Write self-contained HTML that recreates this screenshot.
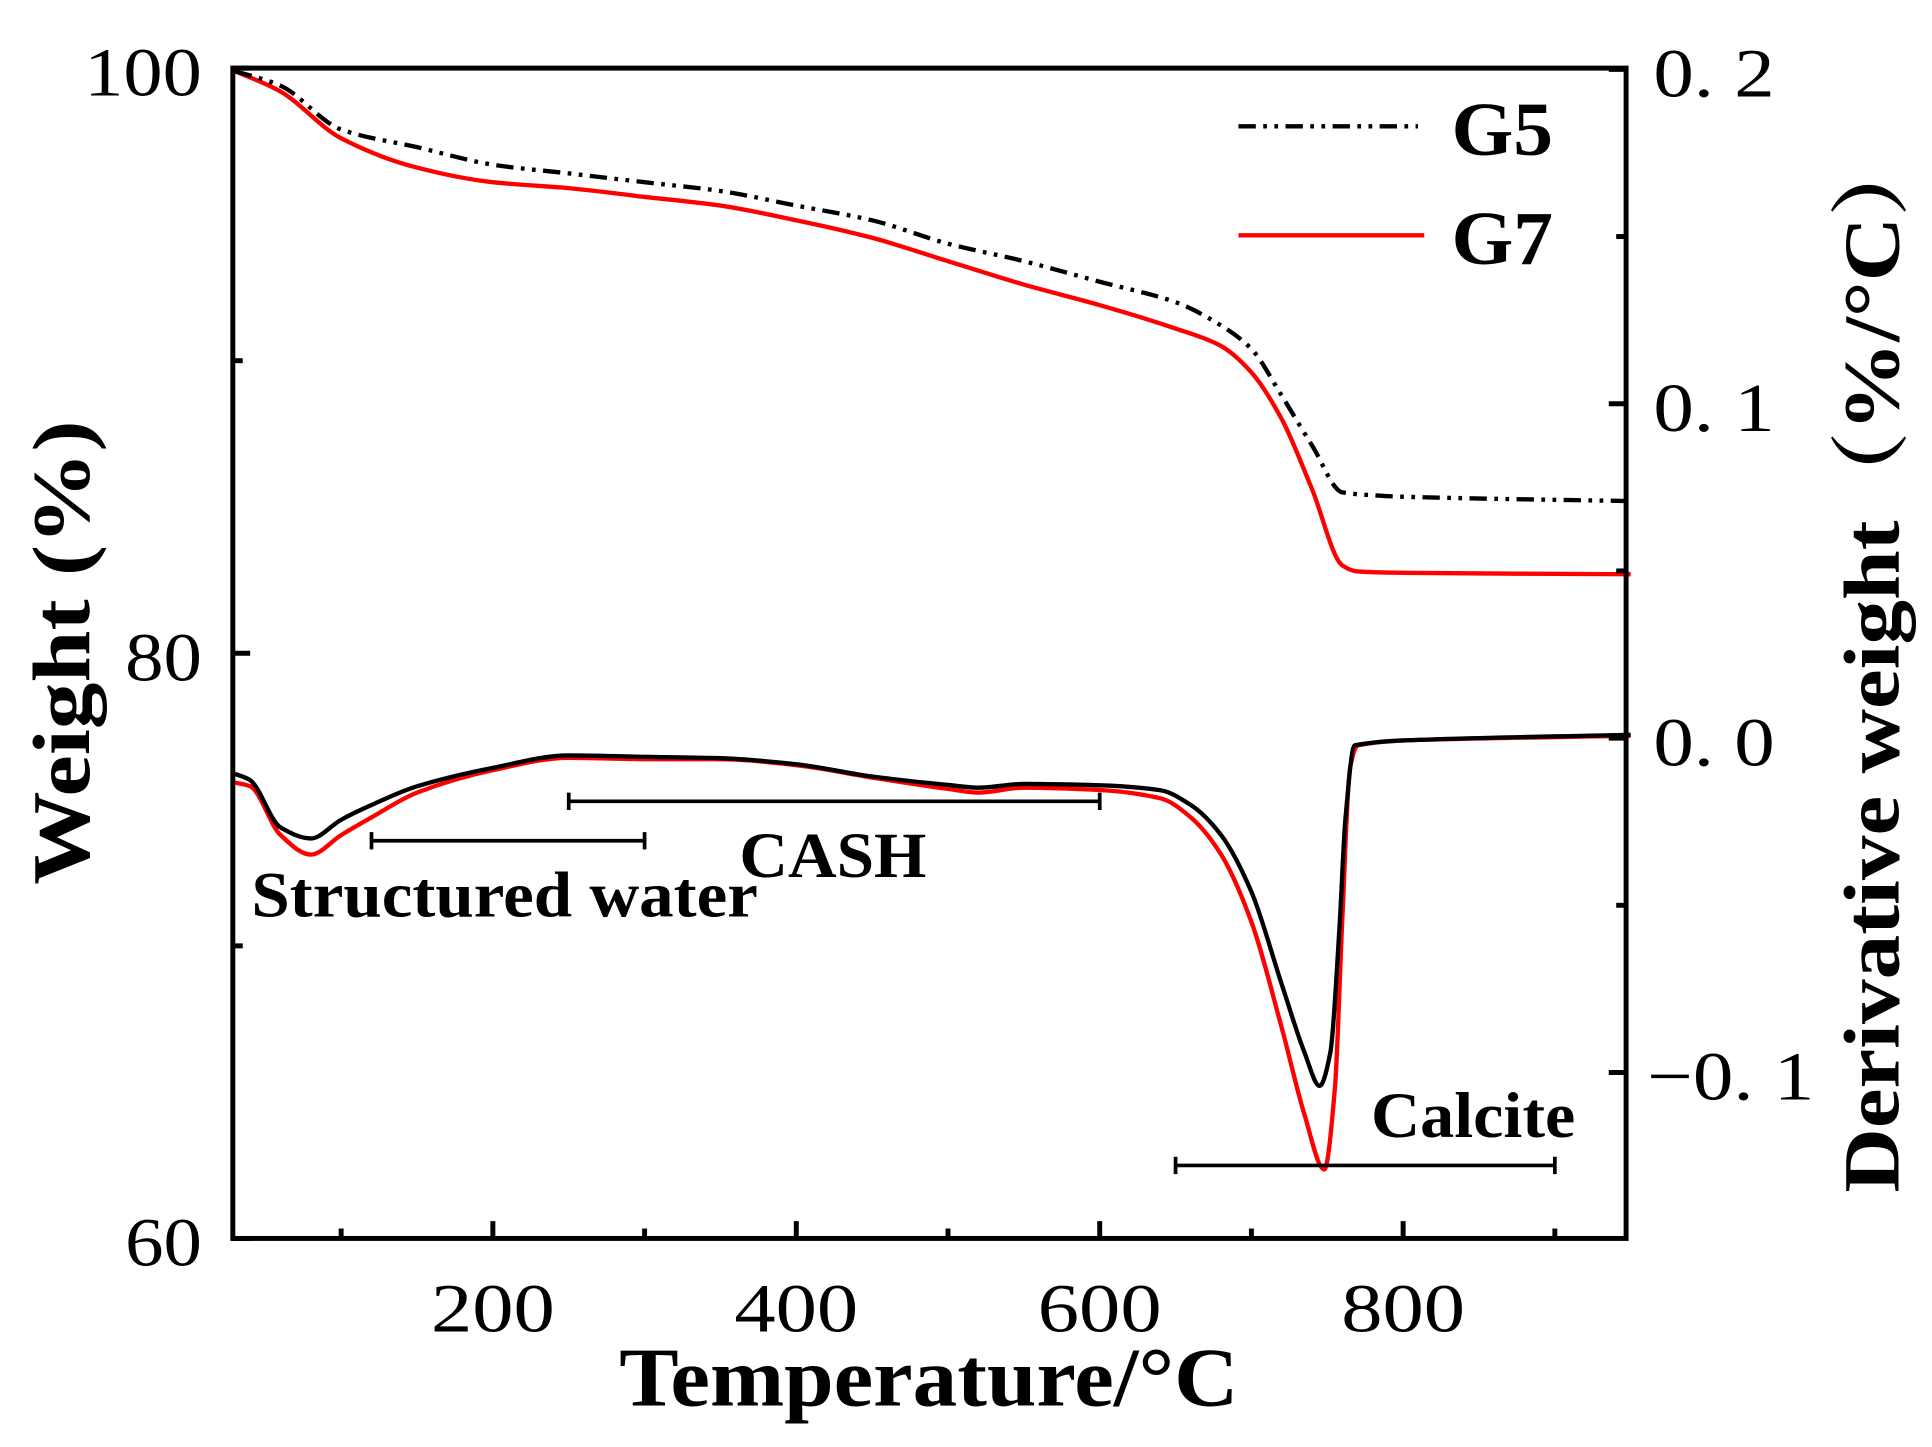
<!DOCTYPE html>
<html><head><meta charset="utf-8"><style>
html,body{margin:0;padding:0;background:#fff;}
svg{display:block;}
text{font-family:"Liberation Serif",serif;}
</style></head><body>
<svg id="chart" width="1932" height="1447" viewBox="0 0 1560 1168.4" preserveAspectRatio="none" xmlns="http://www.w3.org/2000/svg">
<g id="marks"></g>
<g id="frame"></g>
</svg>
<script>
const temps5 = [30,60,100,150,200,250,300,350,400,450,500,550,600,650,680,700,720,740,760,780,800,950];
const tgG5 = [99.9,99.4,97.9,97.3,96.7,96.4,96.1,95.8,95.3,94.8,94.0,93.4,92.7,92.0,91.2,90.4,88.8,87.1,85.5,85.4,85.35,85.2];
const temps7 = [30,60,100,150,200,250,300,350,400,450,500,550,600,650,680,700,720,740,760,770,800,950];
const tgG7 = [99.9,99.2,97.6,96.6,96.1,95.9,95.6,95.3,94.8,94.2,93.4,92.6,91.9,91.1,90.5,89.6,88.0,85.6,83.0,82.8,82.75,82.7];
const dtgTemps5 = [30,40,60,80,100,120,150,200,250,300,350,400,450,500,520,550,600,640,660,680,700,720,735,745,752,758,762,768,800,950];
const dtgG5 = [-0.0107,-0.0126,-0.0267,-0.030,-0.0244,-0.020,-0.0144,-0.0089,-0.0052,-0.0056,-0.006,-0.0078,-0.0115,-0.014,-0.0148,-0.0137,-0.0141,-0.0156,-0.020,-0.029,-0.046,-0.0737,-0.094,-0.104,-0.094,-0.057,-0.024,-0.0022,-0.0007,0.001];
const dtgTemps7 = [30,40,60,80,100,120,150,200,250,300,350,400,450,500,520,550,600,640,660,680,700,720,735,748,755,760,765,770,800,950];
const dtgG7 = [-0.0133,-0.0144,-0.029,-0.0348,-0.029,-0.0237,-0.0163,-0.0096,-0.0059,-0.0063,-0.0063,-0.0081,-0.0118,-0.0152,-0.0163,-0.0148,-0.0155,-0.018,-0.0237,-0.0348,-0.055,-0.0867,-0.1126,-0.129,-0.105,-0.053,-0.009,-0.0022,-0.0007,0.0007];
const xTicks = [200,400,600,800];
const xMinor = [100,300,500,700,900];
const yLeftTicks = [100,80,60];
const yLeftMinor = [90,70];
const yRightTicks = [0.2,0.1,0.0,-0.1];
const yRightLabels = ["0. 2","0. 1","0. 0","\u22120. 1"];
const yRightMinor = [0.15,0.05,-0.05];
const brackets = [
 {name:"structured-water-range", t0:120, t1:300, v:-0.0307},
 {name:"cash-range", t0:250, t1:600, v:-0.0189},
 {name:"calcite-range", t0:650, t1:900, v:-0.1278}
];

const L=188,R=1313,T=55,B=1000;
const x = t => L + (t-28.6)*1.225;
const yL = w => T + (100-w)*(B-T)/40;
const yR = v => 596 - v*2700;
const NS="http://www.w3.org/2000/svg";
const marks=document.getElementById('marks'), frame=document.getElementById('frame');
function mk(tag,attrs,parent){const e=document.createElementNS(NS,tag);for(const k in attrs)e.setAttribute(k,attrs[k]);parent.appendChild(e);return e;}
function path(ts,vs,fy){
 const P=ts.map((t,i)=>[x(t),fy(vs[i])]);const n=P.length;
 const d=[],m=[];
 for(let i=0;i<n-1;i++)d.push((P[i+1][1]-P[i][1])/(P[i+1][0]-P[i][0]));
 for(let i=0;i<n;i++){
  if(i===0)m.push(d[0]);else if(i===n-1)m.push(d[n-2]);
  else m.push(d[i-1]*d[i]<=0?0:2/(1/d[i-1]+1/d[i]));
 }
 let s='M'+P[0][0].toFixed(1)+','+P[0][1].toFixed(1);
 for(let i=0;i<n-1;i++){const h=(P[i+1][0]-P[i][0])/3;
  s+='C'+(P[i][0]+h).toFixed(1)+','+(P[i][1]+m[i]*h).toFixed(1)+' '+(P[i+1][0]-h).toFixed(1)+','+(P[i+1][1]-m[i+1]*h).toFixed(1)+' '+P[i+1][0].toFixed(1)+','+P[i+1][1].toFixed(1);}
 return s;
}

let e;
e=mk('path',{d:path(temps7,tgG7,yL),fill:'none',stroke:'#ff0000','stroke-width':3.5,'stroke-linejoin':'round'},marks);


e=mk('path',{d:path(dtgTemps7,dtgG7,yR),fill:'none',stroke:'#ff0000','stroke-width':3.5,'stroke-linejoin':'round'},marks);


e=mk('path',{d:path(temps5,tgG5,yL),fill:'none',stroke:'#000','stroke-width':3.5,'stroke-dasharray':'14 6 3 6 3 6'},marks);


e=mk('path',{d:path(dtgTemps5,dtgG5,yR),fill:'none',stroke:'#000','stroke-width':3.5,'stroke-linejoin':'round'},marks);



brackets.forEach(b=>{
 const g=mk('g',{stroke:'#000','stroke-width':3},marks);
 
 
 const yy=yR(b.v);
 mk('line',{x1:x(b.t0),x2:x(b.t1),y1:yy,y2:yy},g);
 mk('line',{x1:x(b.t0),x2:x(b.t0),y1:yy-7,y2:yy+7},g);
 mk('line',{x1:x(b.t1),x2:x(b.t1),y1:yy-7,y2:yy+7},g);
});

e=mk('rect',{x:L,y:T,width:R-L,height:B-T,fill:'none',stroke:'#000','stroke-width':4},frame);



xTicks.forEach(t=>{
 mk('line',{x1:x(t),x2:x(t),y1:B,y2:B-14,stroke:'#000','stroke-width':4},frame);
 e=mk('text',{x:x(t),y:1075,'text-anchor':'middle','font-size':56,textLength:100,lengthAdjust:'spacingAndGlyphs'},frame);
 e.textContent=t;
 
 
});
xMinor.forEach(t=>mk('line',{x1:x(t),x2:x(t),y1:B,y2:B-8,stroke:'#000','stroke-width':4},frame));
yLeftTicks.forEach(w=>{
 mk('line',{x1:L,x2:L+14,y1:yL(w),y2:yL(w),stroke:'#000','stroke-width':4},frame);
 e=mk('text',{x:163,y:yL(w)+22,'text-anchor':'end','font-size':56,textLength:w>=100?95:62,lengthAdjust:'spacingAndGlyphs'},frame);
 e.textContent=w;
 
 
});
yLeftMinor.forEach(w=>mk('line',{x1:L,x2:L+8,y1:yL(w),y2:yL(w),stroke:'#000','stroke-width':4},frame));
yRightTicks.forEach((v,i)=>{
 mk('line',{x1:R,x2:R-14,y1:yR(v),y2:yR(v),stroke:'#000','stroke-width':4},frame);
 e=mk('text',{x:v<0?1330:1335,y:yR(v)+22,'font-size':56,textLength:v<0?135:98,lengthAdjust:'spacingAndGlyphs'},frame);
 e.textContent=yRightLabels[i];
 
 
});
yRightMinor.forEach(v=>mk('line',{x1:R,x2:R-8,y1:yR(v),y2:yR(v),stroke:'#000','stroke-width':4},frame));
</script>
<script>
(function(){
const NS="http://www.w3.org/2000/svg";const svg=document.getElementById('chart');
function t(txt,attrs,name){const e=document.createElementNS(NS,'text');for(const k in attrs)e.setAttribute(k,attrs[k]);e.textContent=txt;


svg.appendChild(e);}
t('Structured water',{x:203,y:740,'font-size':52,'font-weight':'bold',textLength:409,lengthAdjust:'spacingAndGlyphs'},'structured-water-label');
t('CASH',{x:597,y:708,'font-size':52,'font-weight':'bold',textLength:151,lengthAdjust:'spacingAndGlyphs'},'cash-label');
t('Calcite',{x:1107,y:918,'font-size':52,'font-weight':'bold',textLength:165,lengthAdjust:'spacingAndGlyphs'},'calcite-label');
t('Temperature/°C',{x:500,y:1135,'font-size':68,'font-weight':'bold',textLength:500,lengthAdjust:'spacingAndGlyphs'},'x-axis-title');
t('Weight (%)',{x:0,y:0,'font-size':66,'font-weight':'bold',transform:'translate(72,527) rotate(-90)','text-anchor':'middle',textLength:375,lengthAdjust:'spacingAndGlyphs'},'y-left-axis-title');
t('Derivative weight（%/°C）',{x:0,y:0,'font-size':64,'font-weight':'bold',transform:'translate(1533,533) rotate(-90)','text-anchor':'middle',textLength:860,lengthAdjust:'spacingAndGlyphs',style:'font-family:"Liberation Serif","Noto Serif CJK SC",serif'},'y-right-axis-title');
t('G5',{x:1172,y:125,'font-size':62,'font-weight':'bold',textLength:82,lengthAdjust:'spacingAndGlyphs'},'legend-label-g5');
t('G7',{x:1172,y:213,'font-size':62,'font-weight':'bold',textLength:82,lengthAdjust:'spacingAndGlyphs'},'legend-label-g7');
let l=document.createElementNS(NS,'line');
[['x1',1000],['x2',1145],['y1',102],['y2',102],['stroke','#000'],['stroke-width',3.5],['stroke-dasharray','14 6 3 6 3 6']].forEach(a=>l.setAttribute(a[0],a[1]));


svg.appendChild(l);
l=document.createElementNS(NS,'line');
[['x1',1000],['x2',1150],['y1',190],['y2',190],['stroke','#ff0000'],['stroke-width',3.5]].forEach(a=>l.setAttribute(a[0],a[1]));


svg.appendChild(l);
})();
</script>
</body></html>
